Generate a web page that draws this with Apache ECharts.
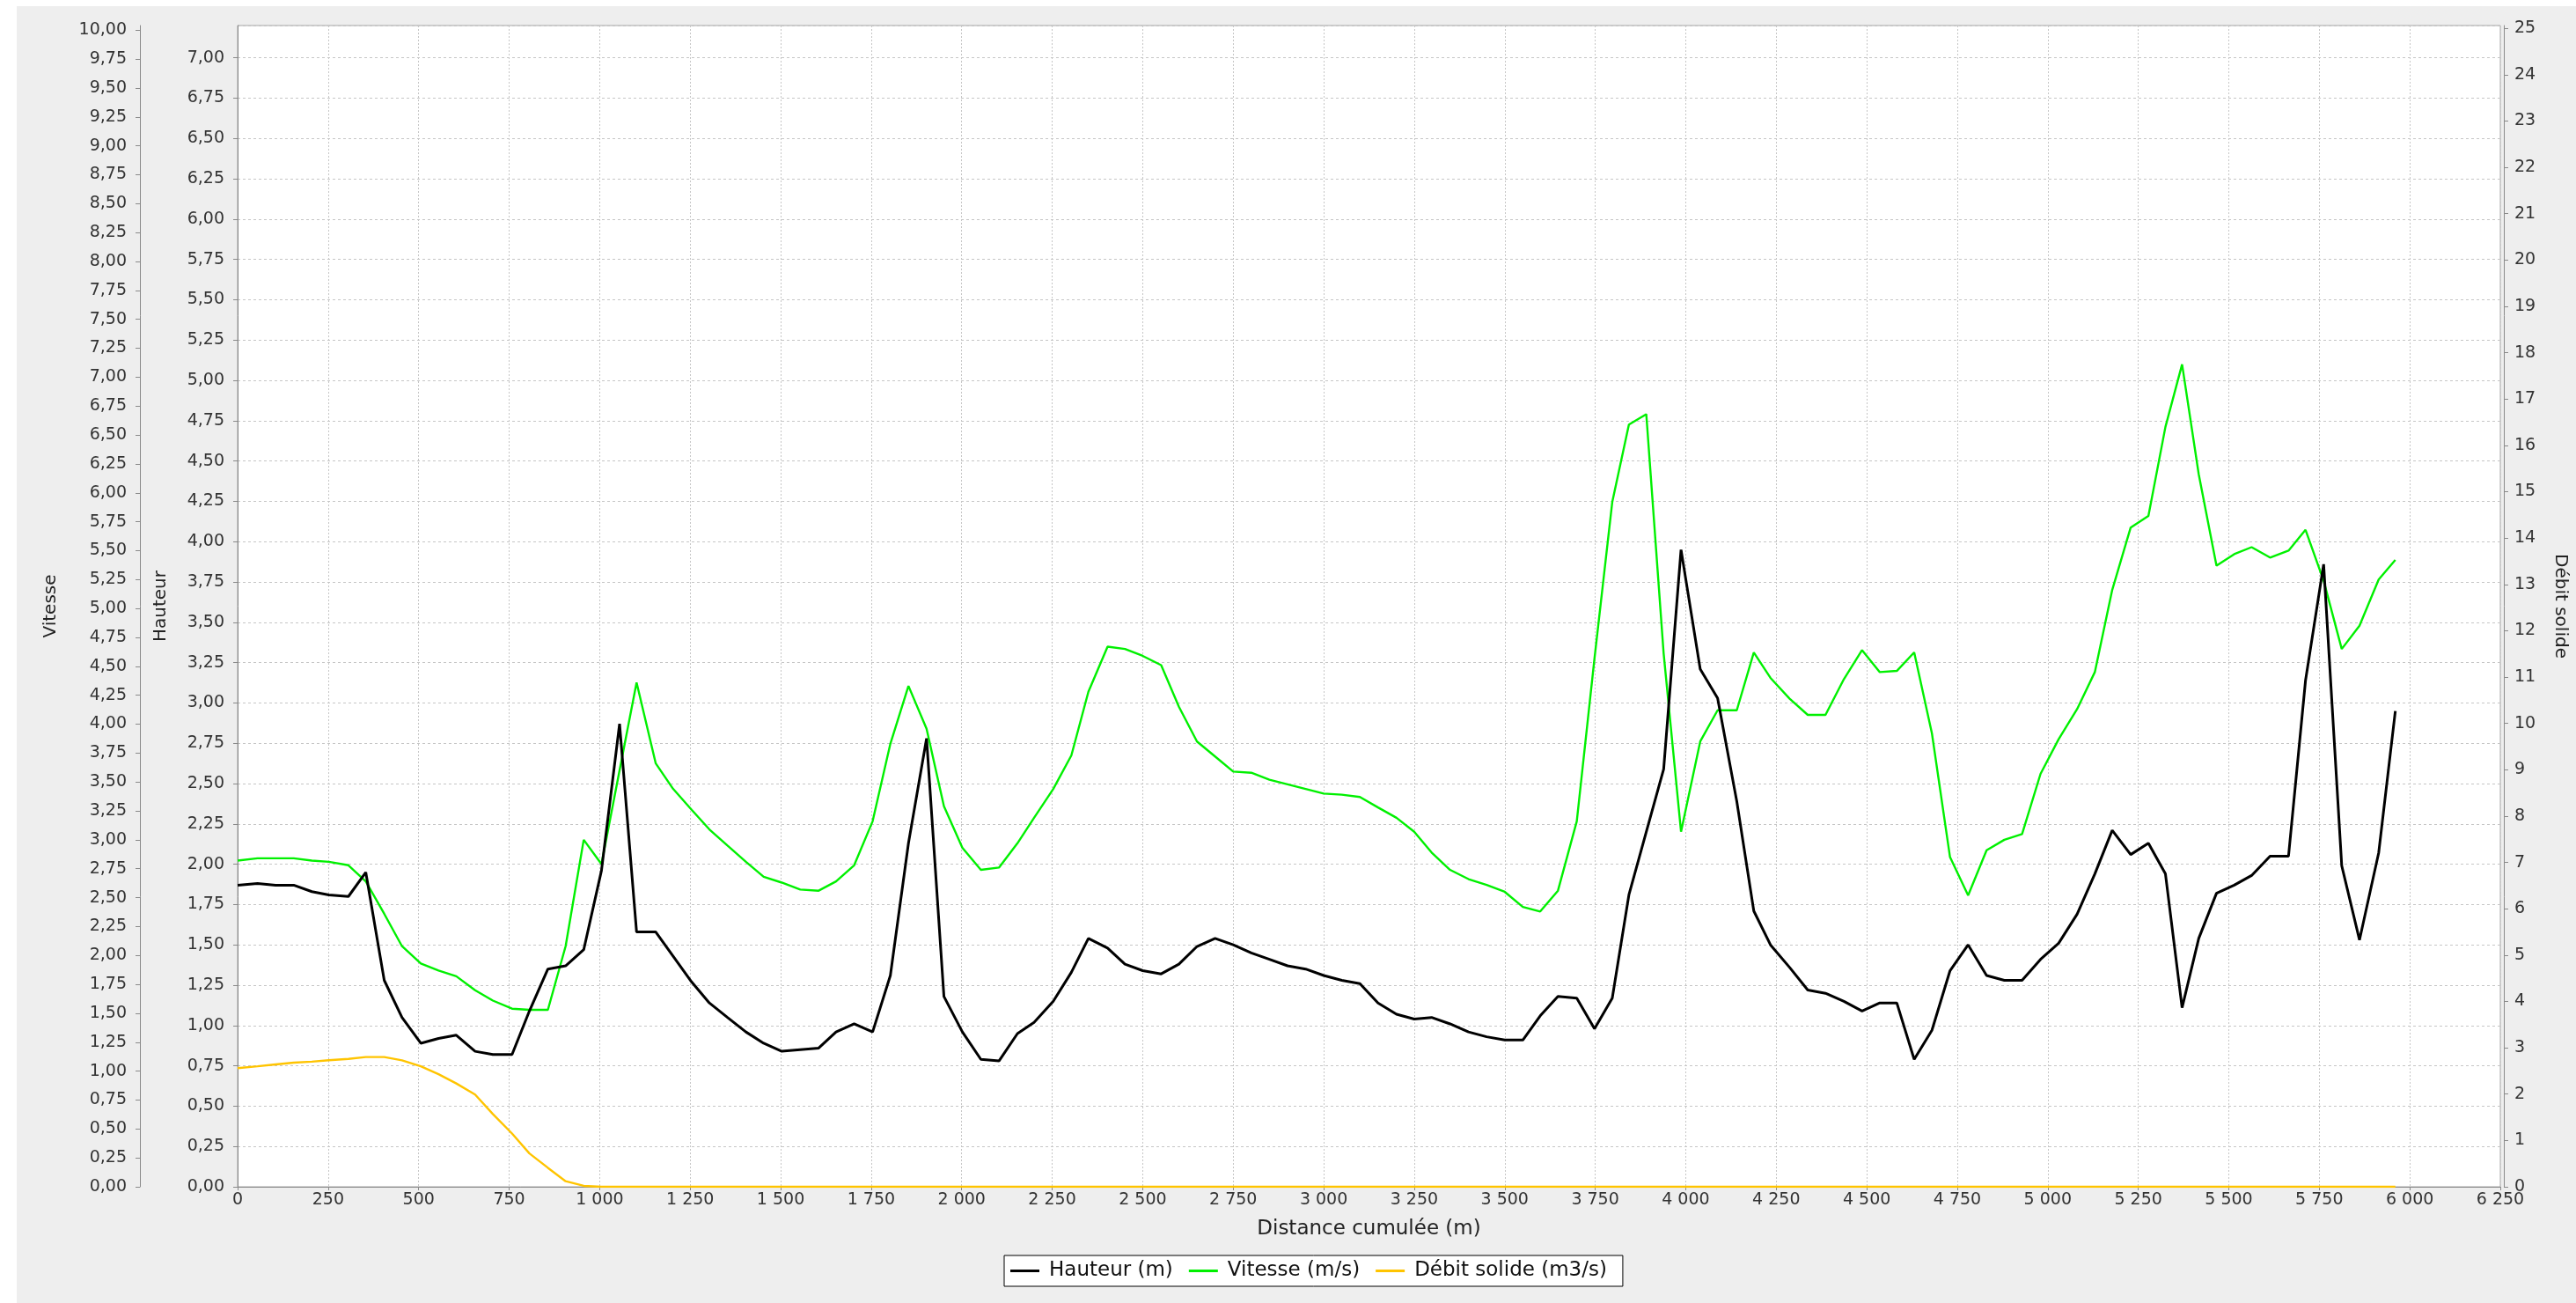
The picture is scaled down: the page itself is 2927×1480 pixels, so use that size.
<!DOCTYPE html>
<html>
<head>
<meta charset="utf-8">
<title>Profil en long</title>
<script src="https://cdn.jsdelivr.net/npm/echarts@6/dist/echarts.min.js"></script>
<style>
    html, body { margin: 0; padding: 0; background: #fff; }
    #main { position: absolute; left: 19px; top: 7px; width: 2908px; height: 1473px; background: #eeeeee; }
</style>
</head>
<body>
<div id="main"></div>
<script>
// distance cumulée (m) of each profile point
var distance = [
    0, 55, 105, 155, 205, 252, 306, 354, 405, 454, 506, 555, 604, 656, 705, 758, 806, 857, 906, 956, 1005, 1055,
    1102, 1155, 1203, 1254, 1303, 1353, 1404, 1453, 1503, 1554, 1605, 1653, 1703, 1754, 1803, 1853, 1903, 1951, 2002, 2053, 2103,
    2154, 2200, 2253, 2303, 2350, 2403, 2451, 2500, 2551, 2600, 2650, 2700, 2750, 2800, 2850, 2900, 2950, 3000, 3050, 3100, 3150,
    3201, 3250, 3298, 3349, 3400, 3450, 3500, 3550, 3598, 3647, 3699, 3748, 3797, 3843, 3891, 3939, 3987, 4040, 4088, 4141, 4188,
    4234, 4287, 4337, 4386, 4437, 4487, 4536, 4583, 4631, 4680, 4730, 4780, 4831, 4880, 4929, 4980, 5030, 5081, 5130, 5178, 5229,
    5278, 5325, 5371, 5417, 5466, 5515, 5563, 5614, 5665, 5712, 5762, 5812, 5861, 5914, 5960
];

// Hauteur (m)
var hauteur = [
    1.87, 1.88, 1.87, 1.87, 1.83, 1.81, 1.80, 1.95, 1.28, 1.05, 0.89, 0.92, 0.94, 0.84, 0.82, 0.82, 1.09, 1.35, 1.37, 1.47, 1.96, 2.87,
    1.58, 1.58, 1.43, 1.27, 1.14, 1.05, 0.96, 0.89, 0.84, 0.85, 0.86, 0.96, 1.01, 0.96, 1.31, 2.13, 2.78, 1.18, 0.96, 0.79, 0.78,
    0.95, 1.02, 1.15, 1.33, 1.54, 1.48, 1.38, 1.34, 1.32, 1.38, 1.49, 1.54, 1.50, 1.45, 1.41, 1.37, 1.35, 1.31, 1.28, 1.26, 1.14,
    1.07, 1.04, 1.05, 1.01, 0.96, 0.93, 0.91, 0.91, 1.06, 1.18, 1.17, 0.98, 1.17, 1.81, 2.20, 2.59, 3.95, 3.21, 3.03, 2.39, 1.71,
    1.50, 1.36, 1.22, 1.20, 1.15, 1.09, 1.14, 1.14, 0.79, 0.97, 1.34, 1.50, 1.31, 1.28, 1.28, 1.41, 1.51, 1.69, 1.94, 2.21, 2.06,
    2.13, 1.94, 1.11, 1.54, 1.82, 1.87, 1.93, 2.05, 2.05, 3.14, 3.86, 1.99, 1.53, 2.07, 2.95
];

// Vitesse (m/s)
var vitesse = [
    2.82, 2.84, 2.84, 2.84, 2.82, 2.81, 2.78, 2.64, 2.36, 2.08, 1.93, 1.87, 1.82, 1.70, 1.61, 1.54, 1.53, 1.53, 2.08, 3.00, 2.79, 3.60,
    4.36, 3.66, 3.44, 3.26, 3.09, 2.95, 2.81, 2.68, 2.63, 2.57, 2.56, 2.64, 2.78, 3.16, 3.83, 4.33, 3.96, 3.29, 2.93, 2.74, 2.76,
    2.97, 3.19, 3.44, 3.73, 4.28, 4.67, 4.65, 4.59, 4.51, 4.15, 3.85, 3.72, 3.59, 3.58, 3.52, 3.48, 3.44, 3.40, 3.39, 3.37, 3.28,
    3.19, 3.07, 2.89, 2.74, 2.66, 2.61, 2.55, 2.42, 2.38, 2.56, 3.16, 4.57, 5.92, 6.59, 6.68, 4.61, 3.07, 3.85, 4.12, 4.12, 4.62,
    4.40, 4.22, 4.08, 4.08, 4.39, 4.64, 4.45, 4.46, 4.62, 3.92, 2.85, 2.52, 2.91, 3.00, 3.05, 3.57, 3.87, 4.13, 4.45, 5.16, 5.70,
    5.80, 6.57, 7.11, 6.16, 5.37, 5.47, 5.53, 5.44, 5.50, 5.68, 5.24, 4.65, 4.85, 5.25, 5.42
];

// Débit solide (m3/s)
var debitSolide = [
    2.56, 2.60, 2.64, 2.68, 2.70, 2.73, 2.76, 2.80, 2.80, 2.73, 2.60, 2.43, 2.23, 1.99, 1.57, 1.15, 0.72, 0.41, 0.12, 0.02, 0, 0,
    0, 0, 0, 0, 0, 0, 0, 0, 0, 0, 0, 0, 0, 0, 0, 0, 0, 0, 0, 0, 0,
    0, 0, 0, 0, 0, 0, 0, 0, 0, 0, 0, 0, 0, 0, 0, 0, 0, 0, 0, 0, 0,
    0, 0, 0, 0, 0, 0, 0, 0, 0, 0, 0, 0, 0, 0, 0, 0, 0, 0, 0, 0, 0,
    0, 0, 0, 0, 0, 0, 0, 0, 0, 0, 0, 0, 0, 0, 0, 0, 0, 0, 0, 0, 0,
    0, 0, 0, 0, 0, 0, 0, 0, 0, 0, 0, 0, 0, 0, 0
];

var seriesNames = ['Hauteur (m)', 'Vitesse (m/s)', 'Débit solide (m3/s)'];
var axisNames = ['Hauteur', 'Vitesse', 'Débit solide'];

var font = 'DejaVu Sans';
var axisGrey = '#8a8a8a';
var gridGrey = '#c6c6c6';

function pairs(values) {
    return distance.map(function (d, i) { return [d, values[i]]; });
}

function fmtDistance(v) {
    var s = String(Math.round(v));
    return s.length > 3 ? s.slice(0, -3) + ' ' + s.slice(-3) : s;
}

function fmtDecimal(v) {
    return v.toFixed(2).replace('.', ',');
}

function leftAxis(name, max, offset, gap, split) {
    return {
        type: 'value',
        position: 'left',
        offset: offset,
        min: 0,
        max: max,
        interval: 0.25,
        name: name,
        nameLocation: 'middle',
        nameGap: gap,
        nameTextStyle: { fontFamily: font, fontSize: 20, color: '#222' },
        axisLine: { show: true, lineStyle: { color: axisGrey } },
        axisTick: { show: true, length: 5, lineStyle: { color: axisGrey } },
        axisLabel: { fontFamily: font, fontSize: 19, color: '#333', margin: 15, showMaxLabel: false, formatter: fmtDecimal },
        splitLine: { show: split, lineStyle: { color: gridGrey, type: [3, 3] } }
    };
}

var chart = echarts.init(document.getElementById('main'));

var option = {
    animation: false,
    backgroundColor: 'transparent',
    textStyle: { fontFamily: font },
    grid: {
        left: 251, top: 22, right: 86, bottom: 132,
        show: true, backgroundColor: '#ffffff', borderColor: '#a6a6a6', borderWidth: 1,
        containLabel: false, outerBoundsMode: 'none'
    },
    legend: {
        data: seriesNames,
        left: 1122, top: 1419,
        orient: 'horizontal',
        icon: 'rect',
        itemWidth: 33, itemHeight: 3, itemGap: 18,
        padding: [6, 18, 6, 7],
        backgroundColor: '#ffffff',
        borderColor: '#000000', borderWidth: 1, borderRadius: 0,
        textStyle: { fontFamily: font, fontSize: 23, color: '#111', padding: [0, 0, 0, 6] }
    },
    xAxis: {
        type: 'value',
        min: 0, max: 6250, interval: 250,
        name: 'Distance cumulée (m)',
        nameLocation: 'middle',
        nameGap: 37,
        nameTextStyle: { fontFamily: font, fontSize: 23, color: '#222' },
        axisLine: { onZero: false, lineStyle: { color: axisGrey } },
        axisTick: { length: 4, lineStyle: { color: axisGrey } },
        axisLabel: { fontFamily: font, fontSize: 19, color: '#333', margin: 6, formatter: fmtDistance },
        splitLine: { show: true, lineStyle: { color: gridGrey, type: [2, 2] } }
    },
    yAxis: [
        leftAxis(axisNames[0], 7.2, 0, 77, true),
        leftAxis(axisNames[1], 10.04, 111, 91, false),
        {
            type: 'value',
            position: 'right',
            offset: 4,
            min: 0, max: 25.06, interval: 1,
            name: axisNames[2],
            nameLocation: 'middle',
            nameRotate: -90,
            nameGap: 54,
            nameTextStyle: { fontFamily: font, fontSize: 20, color: '#222' },
            axisLine: { show: true, lineStyle: { color: axisGrey } },
            axisTick: { show: true, length: 5, lineStyle: { color: axisGrey } },
            axisLabel: { fontFamily: font, fontSize: 19, color: '#333', margin: 12, showMaxLabel: false },
            splitLine: { show: false }
        }
    ],
    series: [
        {
            name: seriesNames[0], type: 'line', yAxisIndex: 0, z: 4,
            symbol: 'none', showSymbol: false,
            lineStyle: { color: '#000000', width: 3 },
            itemStyle: { color: '#000000' },
            data: pairs(hauteur)
        },
        {
            name: seriesNames[1], type: 'line', yAxisIndex: 1, z: 3,
            symbol: 'none', showSymbol: false,
            lineStyle: { color: '#00f000', width: 2.4 },
            itemStyle: { color: '#00f000' },
            data: pairs(vitesse)
        },
        {
            name: seriesNames[2], type: 'line', yAxisIndex: 2, z: 2,
            symbol: 'none', showSymbol: false,
            lineStyle: { color: '#ffc400', width: 2.4 },
            itemStyle: { color: '#ffc400' },
            data: pairs(debitSolide)
        }
    ]
};

chart.setOption(option);
</script>
</body>
</html>
